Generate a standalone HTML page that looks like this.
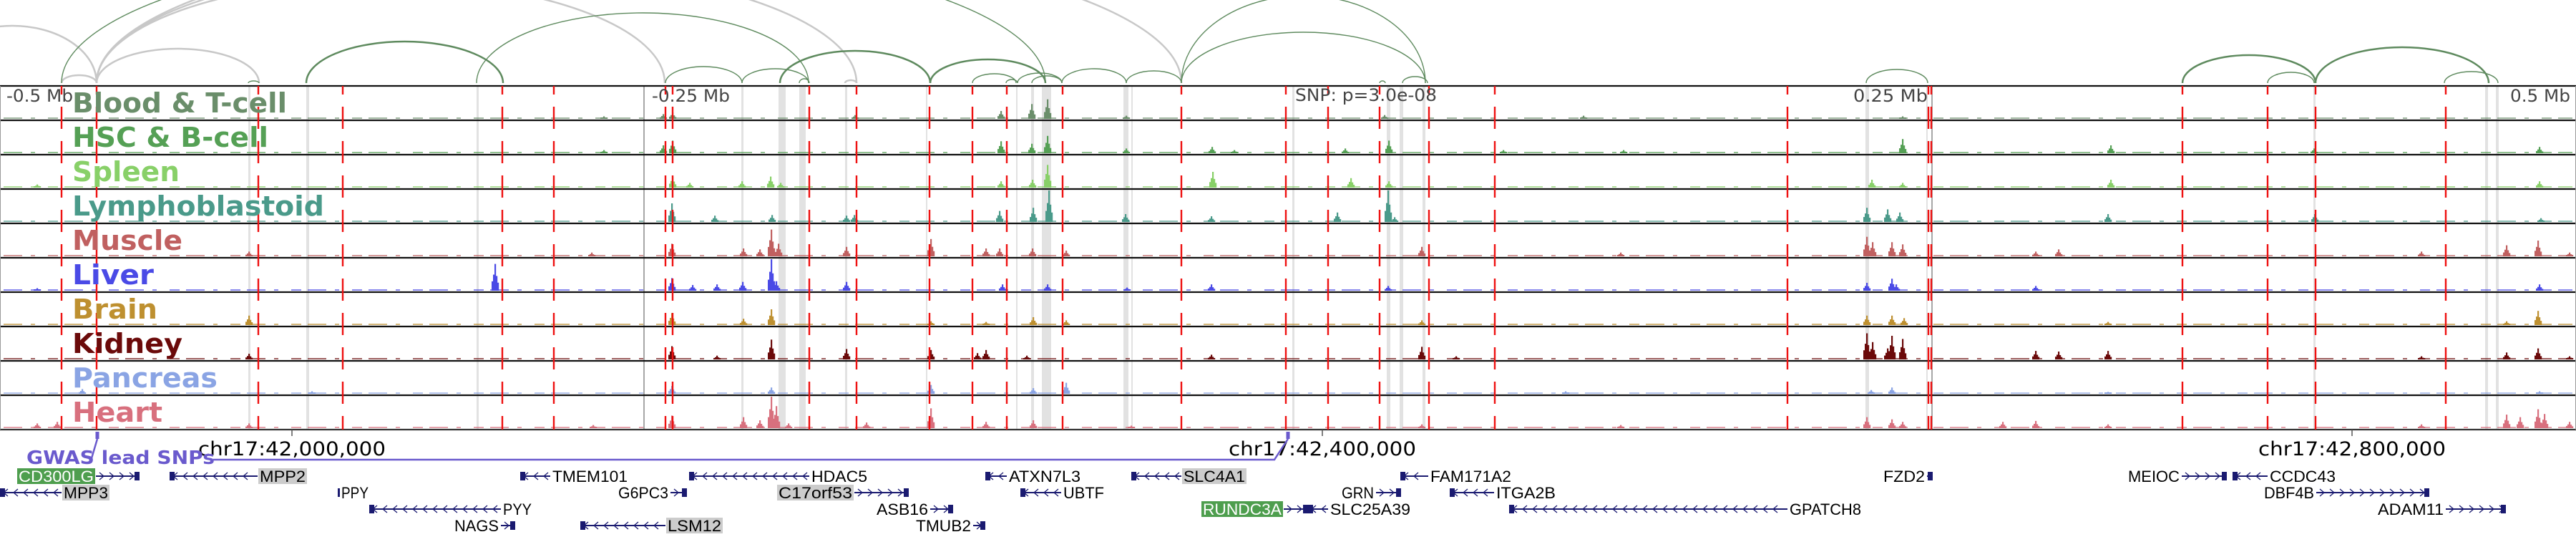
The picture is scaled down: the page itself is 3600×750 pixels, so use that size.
<!DOCTYPE html>
<html><head><meta charset="utf-8"><style>
html,body{margin:0;padding:0;background:#fff;}
svg{display:block;}
</style></head><body>
<svg id="fig" width="3600" height="750" viewBox="0 0 3600 750" xmlns="http://www.w3.org/2000/svg">
<g id="arcs"></g>
<g id="bands"></g>
<g id="tracks"></g>
<g id="reds"></g>
<g id="labels"></g>
<g id="axis"></g>
<g id="genes"></g>
</svg>
<script>
// ---- data (positions in genomic bins, 1 bin ~ 278 bp, window = 3600 bins) ----
const trackNames = ["Blood & T-cell","HSC & B-cell","Spleen","Lymphoblastoid","Muscle","Liver","Brain","Kidney","Pancreas","Heart"];
const trackColors = ["#6a8e6a","#55a055","#88d068","#4a9a8a","#c06060","#4a4ae6","#be9030","#6b0a0a","#8aa4e4","#d8707e"];
const peaksBlood = [[927,0.15],[940,0.2],[1195,0.12],[1399,0.25],[1442,0.47],[1464,0.62],[1574,0.1],[1935,0.12],[2213,0.1],[2659,0.08],[844,0.08]];
const peaksHSC = [[927,0.25],[940,0.4],[1399,0.38],[1442,0.3],[1464,0.55],[1574,0.15],[1694,0.2],[1725,0.1],[1880,0.15],[1941,0.4],[2101,0.1],[2269,0.1],[2659,0.45],[2950,0.25],[3234,0.15],[3549,0.2],[844,0.1]];
const peaksSpleen = [[52,0.1],[940,0.35],[964,0.15],[1037,0.2],[1077,0.35],[1091,0.15],[1399,0.2],[1443,0.25],[1464,0.72],[1695,0.5],[1888,0.3],[1941,0.2],[2616,0.25],[2659,0.15],[2950,0.25],[3549,0.2]];
const peaksLympho = [[939,0.59],[999,0.2],[1079,0.22],[1183,0.2],[1194,0.22],[1397,0.35],[1444,0.45],[1466,1.0],[1573,0.25],[1693,0.18],[1869,0.3],[1940,1.0],[1949,0.15],[2609,0.45],[2638,0.4],[2655,0.3],[2946,0.25],[3235,0.25],[3551,0.12]];
const peaksMuscle = [[348,0.15],[827,0.12],[939,0.4],[1039,0.25],[1062,0.22],[1078,0.85],[1088,0.4],[1183,0.3],[1301,0.55],[1378,0.25],[1397,0.25],[1443,0.25],[1490,0.18],[1987,0.3],[2265,0.12],[2609,0.62],[2617,0.45],[2644,0.45],[2659,0.38],[2845,0.15],[2877,0.22],[3384,0.15],[3503,0.35],[3547,0.5],[3591,0.12]];
const peaksLiver = [[52,0.08],[692,0.85],[939,0.4],[968,0.18],[1002,0.2],[1038,0.28],[1078,1.0],[1085,0.3],[1183,0.28],[1401,0.2],[1464,0.2],[1575,0.1],[1693,0.2],[1940,0.15],[2609,0.25],[2644,0.38],[2650,0.2],[2845,0.15],[3549,0.2]];
const peaksBrain = [[348,0.3],[939,0.38],[1039,0.2],[1078,0.5],[1301,0.12],[1378,0.1],[1444,0.25],[1490,0.15],[1987,0.15],[2609,0.3],[2644,0.3],[2661,0.22],[2946,0.1],[3503,0.12],[3547,0.45]];
const peaksKidney = [[348,0.18],[939,0.42],[1002,0.12],[1078,0.63],[1183,0.33],[1301,0.3],[1366,0.2],[1378,0.3],[1435,0.12],[1693,0.15],[1987,0.4],[2035,0.1],[2609,0.83],[2617,0.55],[2638,0.35],[2644,0.75],[2659,0.65],[2845,0.27],[2877,0.25],[2946,0.27],[3384,0.1],[3503,0.22],[3547,0.35],[3591,0.1]];
const peaksPancreas = [[115,0.15],[436,0.08],[939,0.25],[1078,0.2],[1301,0.28],[1444,0.18],[1490,0.35],[2188,0.08],[2615,0.12],[2644,0.2],[2946,0.06],[3549,0.08]];
const peaksHeart = [[52,0.15],[80,0.2],[348,0.15],[829,0.1],[939,0.4],[1039,0.35],[1062,0.25],[1078,1.0],[1085,0.7],[1102,0.15],[1211,0.18],[1301,0.63],[1378,0.2],[1444,0.25],[1581,0.08],[1987,0.12],[2265,0.1],[2609,0.35],[2644,0.28],[2659,0.2],[2799,0.2],[2845,0.23],[2946,0.12],[3384,0.12],[3503,0.43],[3522,0.35],[3547,0.6],[3556,0.45],[3591,0.2]];
const allPeaks = [peaksBlood,peaksHSC,peaksSpleen,peaksLympho,peaksMuscle,peaksLiver,peaksBrain,peaksKidney,peaksPancreas,peaksHeart];
const variantBins = [86,135,361,479,702,774,930,940,1131,1197,1299,1359,1407,1485,1651,1797,1856,1928,1997,2089,2498,2695,2699,3050,3169,3236,3418];
const bandStarts = [347,428,666,1036,1088,1117,1181,1294,1420,1441,1456,1570,1581,1806,1938,1956,1988,2607,2692,3233,3473,3488];
const bandEnds   = [350,432,669,1039,1098,1126,1184,1296,1422,1445,1469,1577,1583,1809,1943,1961,1992,2612,2694,3236,3477,3492];
// arcs: start bin, end bin, height
const greenArcStarts = [428,930,1037,1090,1117,1300,1359,1406,1422,1442,1484,1574,1651,1651,1960,1928,2608,3050,3169,3236,3416,347,666,86];
const greenArcEnds   = [703,1037,1130,1300,1131,1461,1420,1422,1484,1484,1574,1651,1992,1992,1995,1936,2694,3236,3234,3478,3491,362,1130,1461];
const greenArcHeights= [58,23,20,45,6,33,13,5,14,10,20,17,71,122,9,3,19,39,15,50,16,3,98,193];
const grayArcStarts = [86,135,-100,135,135,135,1181];
const grayArcEnds   = [135,362,135,929,1197,1651,1197];
const grayArcHeights= [11,48,80,143,168,203,4];
const axisTicks = [408,1848,3287];
const axisTickLabels = ["chr17:42,000,000","chr17:42,400,000","chr17:42,800,000"];
const gwasBins = [136,1800];
// genes: name, start, end, row, strand, label side, box style, label width
const geneNames = ["CD300LG","MPP2","TMEM101","HDAC5","ATXN7L3","SLC4A1","FAM171A2","FZD2","MEIOC","CCDC43","MPP3","PPY","G6PC3","C17orf53","UBTF","GRN","ITGA2B","DBF4B","PYY","ASB16","RUNDC3A","SLC25A39","GPATCH8","ADAM11","NAGS","LSM12","TMUB2"];
const geneStarts = [134,237,727,963,1377,1581,1957,2693,3049,3120,0,472,937,1194,1426,1923,2026,3237,516,1300,1794,1828,2109,3418,700,811,1360];
const geneEnds   = [195,360,769,1131,1407,1651,1996,2701,3112,3169,86,474,960,1270,1483,1958,2088,3395,700,1332,1828,1856,2498,3502,720,930,1377];
const geneRows   = [0,0,0,0,0,0,0,0,0,0,1,1,1,1,1,1,1,1,2,2,2,2,2,2,3,3,3];
const geneStrand = ["+","-","-","-","-","-","-","+","+","-","-","+","+","+","-","+","-","+","-","+","+","-","-","+","+","-","+"];
const labelSide  = ["L","R","R","R","R","R","R","L","L","R","R","R","L","L","R","L","R","L","R","L","L","R","R","L","L","R","L"];
const labelBox   = ["green","gray","","","","gray","","","","","gray","","","gray","","","","","","","green","","","","","gray",""];
const labelW     = [105,64,105,78,100,86,113,58,72,92,62,38,70,103,57,45,83,70,40,72,110,112,100,92,62,75,77];

// ---- drawing ----
const NS = "http://www.w3.org/2000/svg";
const W = 3600;
const x = b => b * W / 3600;
const T0 = 120, TH = 48;
function mk(tag, parent){ const e = document.createElementNS(NS, tag); parent.appendChild(e); return e; }
const gArcs = document.getElementById('arcs'), gBands = document.getElementById('bands'),
      gTracks = document.getElementById('tracks'), gReds = document.getElementById('reds'),
      gLabels = document.getElementById('labels'), gAxis = document.getElementById('axis'),
      gGenes = document.getElementById('genes');
const ARCBASE = 116;
function arc(s, e, h, col, w, name){
  const p = mk('path', gArcs);
  const rx = (x(e) - x(s)) / 2;
  p.setAttribute('d', `M${x(s)},${ARCBASE} A${rx},${h} 0 0 1 ${x(e)},${ARCBASE}`);
  p.setAttribute('fill','none'); p.setAttribute('stroke',col); p.setAttribute('stroke-width',w);
  
  
}
grayArcStarts.forEach((s,i)=>arc(s, grayArcEnds[i], grayArcHeights[i], '#c8c8c8', 2.5, 'gray-loop-arc'));
greenArcStarts.forEach((s,i)=>arc(s, greenArcEnds[i], greenArcHeights[i], '#5e8a5e', (greenArcEnds[i]-s)>150 && greenArcHeights[i]<60 ? 2.5 : 1.4, 'green-loop-arc'));

bandStarts.forEach((s,i)=>{
  const r = mk('rect', gBands);
  r.setAttribute('x', x(s)); r.setAttribute('width', Math.max(2, x(bandEnds[i]) - x(s)));
  r.setAttribute('y', T0); r.setAttribute('height', TH*10); r.setAttribute('fill', '#e2e2e2');
  
  
});
[900, 2700].forEach(b=>{
  const l = mk('line', gBands);
  l.setAttribute('x1',x(b)); l.setAttribute('x2',x(b)); l.setAttribute('y1',T0); l.setAttribute('y2',T0+TH*10);
  l.setAttribute('stroke','#888'); l.setAttribute('stroke-width',1.5);
  
  
});

trackNames.forEach((nm, t)=>{
  const top = T0 + t*TH, bot = top + TH - 2, col = trackColors[t];
  const g = mk('g', gTracks);
  
  
  const base = mk('line', g);
  base.setAttribute('x1', 5); base.setAttribute('x2', 3595); base.setAttribute('y1', bot-1); base.setAttribute('y2', bot-1);
  base.setAttribute('stroke', col); base.setAttribute('stroke-width', 1.6); base.setAttribute('stroke-opacity', 0.85);
  base.setAttribute('stroke-dasharray', '26 12 6 18 14 9');
  
  
  allPeaks[t].forEach(([b,h])=>{
    const hh = h * 44;
    [[-4,0.35],[-2,0.6],[0,1],[2,0.55],[4,0.3]].forEach(([dx,f])=>{
      const r = mk('rect', g);
      r.setAttribute('x', x(b+dx) - 1); r.setAttribute('width', 2.2);
      r.setAttribute('y', bot - Math.max(2, hh*f)); r.setAttribute('height', Math.max(2, hh*f));
      r.setAttribute('fill', col);
      
      
    });
  });
});
for (let t=0; t<=10; t++){
  const l = mk('line', gTracks);
  const y = T0 + t*TH;
  l.setAttribute('x1',0); l.setAttribute('x2',W); l.setAttribute('y1',y); l.setAttribute('y2',y);
  l.setAttribute('stroke', t===10 ? '#333' : '#111'); l.setAttribute('stroke-width', 2.2);
  
  
}
[0.5, W-0.5].forEach(xx=>{
  const l = mk('line', gTracks);
  l.setAttribute('x1',xx); l.setAttribute('x2',xx); l.setAttribute('y1',T0); l.setAttribute('y2',T0+TH*10);
  l.setAttribute('stroke','#999'); l.setAttribute('stroke-width',1);
  
  
});

variantBins.forEach(b=>{
  const l = mk('line', gReds);
  l.setAttribute('x1',x(b)); l.setAttribute('x2',x(b)); l.setAttribute('y1',T0); l.setAttribute('y2',T0+TH*10);
  l.setAttribute('stroke','#ee1111'); l.setAttribute('stroke-width',2.4);
  l.setAttribute('stroke-dasharray','31 17'); l.setAttribute('stroke-dashoffset','19');
  
  
});

const labelWidths = [300,274,150,352,154,114,119,154,203,126];
trackNames.forEach((nm,t)=>{
  const tx = mk('text', gLabels);
  tx.textContent = nm;
  tx.setAttribute('x', 101); tx.setAttribute('y', T0 + t*TH + 37);
  tx.setAttribute('font-family', '"DejaVu Sans", "Liberation Sans", sans-serif');
  tx.setAttribute('font-weight', 'bold'); tx.setAttribute('font-size', 38);
  tx.setAttribute('textLength', labelWidths[t]); tx.setAttribute('lengthAdjust', 'spacingAndGlyphs');
  tx.setAttribute('fill', trackColors[t]);
  
  
});
function txt(parent, s, xx, yy, size, col, len, anchor, name, extra){
  const tx = mk('text', parent);
  tx.textContent = s;
  tx.setAttribute('x', xx); tx.setAttribute('y', yy);
  tx.setAttribute('font-family', '"DejaVu Sans", "Liberation Sans", sans-serif');
  tx.setAttribute('font-size', size); tx.setAttribute('fill', col);
  if (len) { tx.setAttribute('textLength', len); tx.setAttribute('lengthAdjust', 'spacingAndGlyphs'); }
  if (anchor) tx.setAttribute('text-anchor', anchor);
  if (extra) tx.setAttribute('font-weight', extra);
  
  
  return tx;
}
txt(gLabels, '-0.5 Mb', 9, 142, 24, '#444', 93, null, 'scale-label-left');
txt(gLabels, '-0.25 Mb', 911, 142, 24, '#444', 109, null, 'scale-label-minus-quarter');
txt(gLabels, 'SNP: p=3.0e-08', 1810, 141, 24, '#444', 198, null, 'snp-pvalue-label');
txt(gLabels, '0.25 Mb', 2590, 142, 24, '#444', 104, null, 'scale-label-plus-quarter');
txt(gLabels, '0.5 Mb', 3508, 142, 24, '#444', 84, null, 'scale-label-right');

// axis
axisTicks.forEach((b,i)=>{
  const l = mk('line', gAxis);
  l.setAttribute('x1',x(b)); l.setAttribute('x2',x(b)); l.setAttribute('y1',600); l.setAttribute('y2',609);
  l.setAttribute('stroke','#555'); l.setAttribute('stroke-width',1.5);
  
  
  txt(gAxis, axisTickLabels[i], x(b), 636, 27, '#000', 262, 'middle', 'axis-tick-label');
});
// GWAS
const gw = mk('g', gAxis);


gwasBins.forEach(b=>{
  const r = mk('rect', gw);
  r.setAttribute('x', x(b)-2.5); r.setAttribute('y', 603); r.setAttribute('width', 5); r.setAttribute('height', 10);
  r.setAttribute('fill', '#6a5acd');
  
  
});
const gp = mk('path', gw);
gp.setAttribute('d', `M${x(gwasBins[0])},613 L${x(gwasBins[0])-8},640 M298,642 L${x(gwasBins[1])-19},642 L${x(gwasBins[1])},613`);
gp.setAttribute('fill','none'); gp.setAttribute('stroke','#6a5acd'); gp.setAttribute('stroke-width',2.5);


txt(gw, 'GWAS lead SNPs', 37, 648, 26, '#6a5acd', 263, null, 'gwas-label', 'bold');

// genes
const rowY = [665, 688, 711, 734];
const NAVY = '#1a1a70';
geneNames.forEach((nm,i)=>{
  const g = mk('g', gGenes);
  
  
  const y = rowY[geneRows[i]], s = x(geneStarts[i]), e = x(geneEnds[i]);
  const ln = mk('line', g);
  ln.setAttribute('x1', s); ln.setAttribute('x2', Math.max(e, s+2)); ln.setAttribute('y1', y); ln.setAttribute('y2', y);
  ln.setAttribute('stroke', NAVY); ln.setAttribute('stroke-width', 2);
  
  
  let d = '';
  for (let cx = s + 8; cx < e - 4; cx += 14){
    d += geneStrand[i] === '+' ? `M${cx-3},${y-5} L${cx+3},${y} L${cx-3},${y+5} ` : `M${cx+3},${y-5} L${cx-3},${y} L${cx+3},${y+5} `;
  }
  if (d){
    const ch = mk('path', g);
    ch.setAttribute('d', d); ch.setAttribute('fill','none'); ch.setAttribute('stroke', NAVY); ch.setAttribute('stroke-width', 1.3);
    
    
  }
  const ex = mk('rect', g);
  const exX = geneStrand[i] === '+' ? Math.max(s, e - 7) : s;
  ex.setAttribute('x', exX); ex.setAttribute('y', y-6); ex.setAttribute('width', Math.max(3, Math.min(7, e - s))); ex.setAttribute('height', 12);
  ex.setAttribute('fill', NAVY);
  
  
  const lw = labelW[i];
  const lx = labelSide[i] === 'L' ? s - lw - 3 : e + 3;
  if (labelBox[i]){
    const bx = mk('rect', g);
    bx.setAttribute('x', lx - 2); bx.setAttribute('y', y - 11); bx.setAttribute('width', lw + 4); bx.setAttribute('height', 22);
    bx.setAttribute('fill', labelBox[i] === 'green' ? '#4e9e4e' : '#cccccc');
    
    
  }
  const t = txt(g, nm, lx, y + 8, 22, labelBox[i] === 'green' ? '#fff' : '#000', lw, null, 'gene-label');
  t.setAttribute('font-family', '"Liberation Sans", sans-serif');
});
</script>
</body></html>
